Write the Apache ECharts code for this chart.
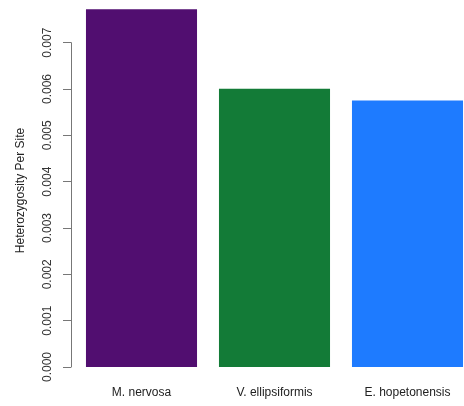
<!DOCTYPE html>
<html>
<head>
<meta charset="utf-8">
<script src="https://cdn.jsdelivr.net/npm/echarts@6/dist/echarts.min.js"></script>
<style>html,body{margin:0;padding:0;background:#fff}#c{width:464px;height:406px}</style>
</head>
<body>
<div id="c"></div>
<script>
const categories = ['M. nervosa', 'V. ellipsiformis', 'E. hopetonensis'];
const values = [0.00773, 0.00601, 0.00576];
const barColors = ['#510E70', '#137B37', '#1E7BFF'];
const yTicks = ['0.000', '0.001', '0.002', '0.003', '0.004', '0.005', '0.006', '0.007'];
const yAxisName = 'Heterozygosity Per Site';

const font = '"Liberation Sans", Arial, Helvetica, sans-serif';
const chart = echarts.init(document.getElementById('c'), null, {renderer: 'canvas'});
chart.setOption({
  animation: false,
  backgroundColor: '#fff',
  grid: [
    {left: 75, right: -10, top: 0, bottom: 39, containLabel: false, outerBoundsMode: 'none'},
    {left: 71, width: 10, top: 42.7, bottom: 39, containLabel: false, outerBoundsMode: 'none'}
  ],
  xAxis: [
    {type: 'category', gridIndex: 0, data: categories,
     axisLine: {show: false}, axisTick: {show: false},
     axisLabel: {margin: 20, fontSize: 12, color: '#222', fontFamily: font}},
    {type: 'value', gridIndex: 1, show: false}
  ],
  yAxis: [
    {type: 'value', gridIndex: 0, min: 0, max: 0.00793,
     axisLine: {show: false}, axisTick: {show: false}, axisLabel: {show: false}, splitLine: {show: false},
     name: yAxisName, nameLocation: 'middle', nameGap: 48, nameRotate: 90,
     nameTextStyle: {fontSize: 12, color: '#222', fontFamily: font, padding: [0, 14, 0, 0]}},
    {type: 'value', gridIndex: 1, min: 0, max: 0.007, interval: 0.001,
     axisLine: {show: true, lineStyle: {color: '#777', width: 1}},
     axisTick: {show: true, length: 8, lineStyle: {color: '#777'}},
     splitLine: {show: false},
     axisLabel: {rotate: 90, margin: 17, fontSize: 12, color: '#333', fontFamily: font,
       formatter: (v) => yTicks[Math.round(v / 0.001)] }}
  ],
  series: [{
    type: 'bar', xAxisIndex: 0, yAxisIndex: 0,
    barCategoryGap: '16.5%',
    data: values.map((v, i) => ({value: v, itemStyle: {color: barColors[i]}}))
  }]
});
</script>
</body>
</html>
